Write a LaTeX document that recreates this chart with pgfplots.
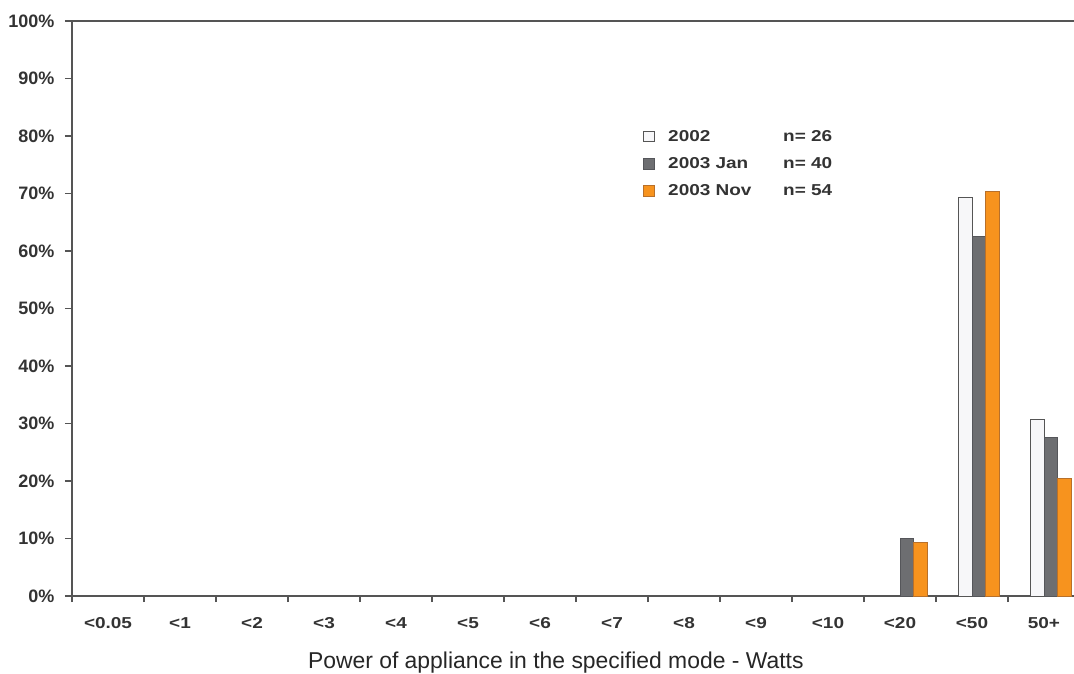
\documentclass[border=0pt]{standalone}
\usepackage{pgfplots}
\pgfplotsset{compat=1.18}
\usepackage{fontspec}
\setmainfont{Liberation Sans}
\newfontfamily\widefont[FakeStretch=1.2]{Liberation Sans}
\definecolor{axgray}{HTML}{555555}
\definecolor{barwhite}{HTML}{F7F7F9}
\definecolor{bargray}{HTML}{6D6E71}
\definecolor{bargrayedge}{HTML}{55565A}
\definecolor{barorange}{HTML}{F7931E}
\definecolor{barorangeedge}{HTML}{B8702A}
\begin{document}
\begin{tikzpicture}[x=1pt,y=1pt]
\begin{axis}[
  at={(72pt,77pt)}, anchor=south west,
  scale only axis, width=1008pt, height=575pt,
  xmin=-0.5, xmax=13.5, ymin=0, ymax=100,
  axis x line*=bottom, axis y line*=left,
  axis line style={color=axgray, line width=1.6pt, -},
  xtick={0,...,13},
  xticklabels={<0.05,<1,<2,<3,<4,<5,<6,<7,<8,<9,<10,<20,<50,50+},
  major x tick style={draw=none},
  minor xtick={-0.5,0.5,...,12.5},
  minor tick length=6pt,
  minor x tick style={color=axgray, line width=1.2pt},
  ytick={0,10,...,100},
  yticklabels={0\%,10\%,20\%,30\%,40\%,50\%,60\%,70\%,80\%,90\%,100\%},
  major tick length=7pt,
  tick align=outside,
  major y tick style={color=axgray, line width=1.2pt},
  xticklabel style={font=\widefont\fontsize{15.8}{18}\selectfont\bfseries, color=black!80,
    anchor=north, inner sep=0pt, text height=11pt, text depth=0pt, yshift=-14pt},
  yticklabel style={font=\fontsize{18}{21}\selectfont\bfseries, color=black!80, xshift=-7pt},
  xlabel={Power of appliance in the specified mode - Watts},
  every axis x label/.style={at={(axis description cs:0.48,0)}, anchor=base, yshift=-72pt, font=\fontsize{22.9}{26}\selectfont, color=black!85},
  ybar, bar width=13.5pt,
  legend style={at={(rel axis cs:0.566,0.813)}, anchor=north west, draw=none, fill=none,
    font=\widefont\fontsize{15.8}{18}\selectfont\bfseries, text=black!80, row sep=10.5pt,
    legend cell align=left, inner sep=0pt},
  legend image code/.code={\draw[#1] (0pt,-5pt) rectangle (11pt,5.5pt); \path[draw=none,fill=none] (0pt,0pt) -- (23pt,0pt);},
  clip=false,
]
\addplot[fill=barwhite, draw=axgray, line width=1pt, bar shift=-6.5pt]
  coordinates {(12,69.23) (13,30.77)};
\addlegendentry{\makebox[115pt][l]{2002}n= 26}
\addplot[fill=bargray, draw=bargrayedge, line width=1pt, bar shift=7pt]
  coordinates {(11,10.0) (12,62.5) (13,27.5)};
\addlegendentry{\makebox[115pt][l]{2003 Jan}n= 40}
\addplot[fill=barorange, draw=barorangeedge, line width=1pt, bar shift=20.5pt]
  coordinates {(11,9.26) (12,70.37) (13,20.37)};
\addlegendentry{\makebox[115pt][l]{2003 Nov}n= 54}
\draw[color=axgray, line width=1.6pt] (rel axis cs:0,1) -- (rel axis cs:1,1);
\end{axis}
\pgfresetboundingbox
\path (0,0) rectangle (1074pt,673pt);
\end{tikzpicture}
\end{document}
